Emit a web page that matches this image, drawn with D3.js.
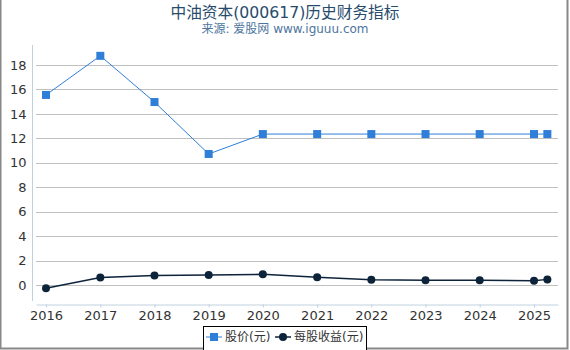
<!DOCTYPE html>
<html>
<head>
<meta charset="utf-8">
<script src="https://cdn.jsdelivr.net/npm/d3@7"></script>
<style>
  body { margin: 0; background: #fff; }
  svg { font-family: "DejaVu Sans", "Noto Sans CJK SC", sans-serif; }
</style>
</head>
<body>
<div id="chart"></div>
<script>
const dates = ['2016-01-01', '2017-01-01', '2018-01-01', '2019-01-01', '2020-01-01',
  '2021-01-01', '2022-01-01', '2023-01-01', '2024-01-01', '2025-01-01', '2025-04-01'];
const price = [15.55, 18.75, 14.97, 10.72, 12.35, 12.35, 12.35, 12.35, 12.35, 12.35, 12.35];
const eps = [-0.27, 0.62, 0.78, 0.82, 0.87, 0.63, 0.42, 0.38, 0.38, 0.35, 0.46];
const yTicks = [0, 2, 4, 6, 8, 10, 12, 14, 16, 18];
const seriesNames = ['股价(元)', '每股收益(元)'];

const width = 570, height = 350;
const parse = d3.timeParse('%Y-%m-%d');
const pts = dates.map((d, i) => ({ date: parse(d), price: price[i], eps: eps[i] }));

const svg = d3.select('#chart').append('svg')
  .attr('width', width).attr('height', height);

// frame
svg.append('path')
  .attr('d', `M0.5,0 V${height - 1.5} H${width - 2.5} V0`)
  .attr('fill', 'none').attr('stroke', '#888').attr('stroke-width', 2);

// title
svg.append('text').attr('x', 285).attr('y', 18).attr('text-anchor', 'middle')
  .attr('font-size', 15.7).attr('fill', '#274b6d').text('中油资本(000617)历史财务指标');
svg.append('text').attr('x', 285).attr('y', 33).attr('text-anchor', 'middle')
  .attr('font-size', 12).attr('fill', '#4d759e').text('来源: 爱股网 www.iguuu.com');

// scales
const x0 = d3.scaleTime().domain([parse('2016-01-01'), parse('2025-01-01')]).range([46, 534]);
const x = d3.scaleTime().domain([x0.invert(36), x0.invert(558)]).range([36, 558]);
const y0 = d3.scaleLinear().domain([0, 18]).range([285, 65]);
const y = d3.scaleLinear().domain([y0.invert(304), y0.invert(45)]).range([304, 45]);

// grid
svg.append('g').selectAll('line').data(yTicks).join('line')
  .attr('x1', 36).attr('x2', 558)
  .attr('y1', d => Math.round(y(d)) + 0.5).attr('y2', d => Math.round(y(d)) + 0.5)
  .attr('stroke', '#c0c0c0');

// y axis
const yAxis = svg.append('g').attr('transform', 'translate(32.5,0)')
  .call(d3.axisLeft(y).tickValues(yTicks).tickSize(0).tickPadding(6));
yAxis.select('.domain').remove();
yAxis.append('line').attr('y1', 45).attr('y2', 301).attr('stroke', '#c0d0e0');
yAxis.selectAll('.tick text').attr('font-size', 13).attr('fill', '#333')
  .attr('font-family', '"DejaVu Sans", sans-serif');

// x axis
const xAxis = svg.append('g').attr('transform', 'translate(0,304.5)')
  .call(d3.axisBottom(x).ticks(d3.timeYear.every(1)).tickFormat(d3.timeFormat('%Y'))
    .tickSizeOuter(0).tickSizeInner(3).tickPadding(3));
xAxis.select('.domain').attr('stroke', '#c0d0e0');
xAxis.selectAll('.tick line').attr('stroke', '#c0d0e0');
xAxis.selectAll('.tick text').attr('font-size', 13).attr('fill', '#333')
  .attr('font-family', '"DejaVu Sans", sans-serif');

// price series
const priceColor = '#2f7ed8', epsColor = '#0d233a';
svg.append('path').datum(pts)
  .attr('d', d3.line().x(d => x(d.date)).y(d => y(d.price)))
  .attr('fill', 'none').attr('stroke', priceColor).attr('stroke-width', 1);
svg.append('g').selectAll('rect').data(pts).join('rect')
  .attr('x', d => x(d.date) - 4).attr('y', d => y(d.price) - 4)
  .attr('width', 8).attr('height', 8).attr('fill', priceColor);

// eps series
svg.append('path').datum(pts)
  .attr('d', d3.line().x(d => x(d.date)).y(d => y(d.eps)))
  .attr('fill', 'none').attr('stroke', epsColor).attr('stroke-width', 1.5);
svg.append('g').selectAll('circle').data(pts).join('circle')
  .attr('cx', d => x(d.date)).attr('cy', d => y(d.eps))
  .attr('r', 4).attr('fill', epsColor);

// legend
const lg = svg.append('g');
lg.append('rect').attr('x', 203.5).attr('y', 326.5).attr('width', 163).attr('height', 24)
  .attr('fill', '#fff').attr('stroke', '#000');
const items = [
  { name: seriesNames[0], color: priceColor, shape: 'rect', x: 206 },
  { name: seriesNames[1], color: epsColor, shape: 'circle', x: 275 }
];
items.forEach(it => {
  const g = lg.append('g').attr('transform', `translate(${it.x},337)`);
  g.append('line').attr('x1', 0).attr('x2', 16).attr('stroke', it.color)
    .attr('stroke-width', it.shape === 'rect' ? 1 : 1.5);
  if (it.shape === 'rect') g.append('rect').attr('x', 4).attr('y', -4).attr('width', 8).attr('height', 8).attr('fill', it.color);
  else g.append('circle').attr('cx', 8).attr('r', 4).attr('fill', it.color);
  g.append('text').attr('x', 19).attr('dy', '0.35em').attr('font-size', 12)
    .attr('fill', '#333').text(it.name);
});
</script>
</body>
</html>
